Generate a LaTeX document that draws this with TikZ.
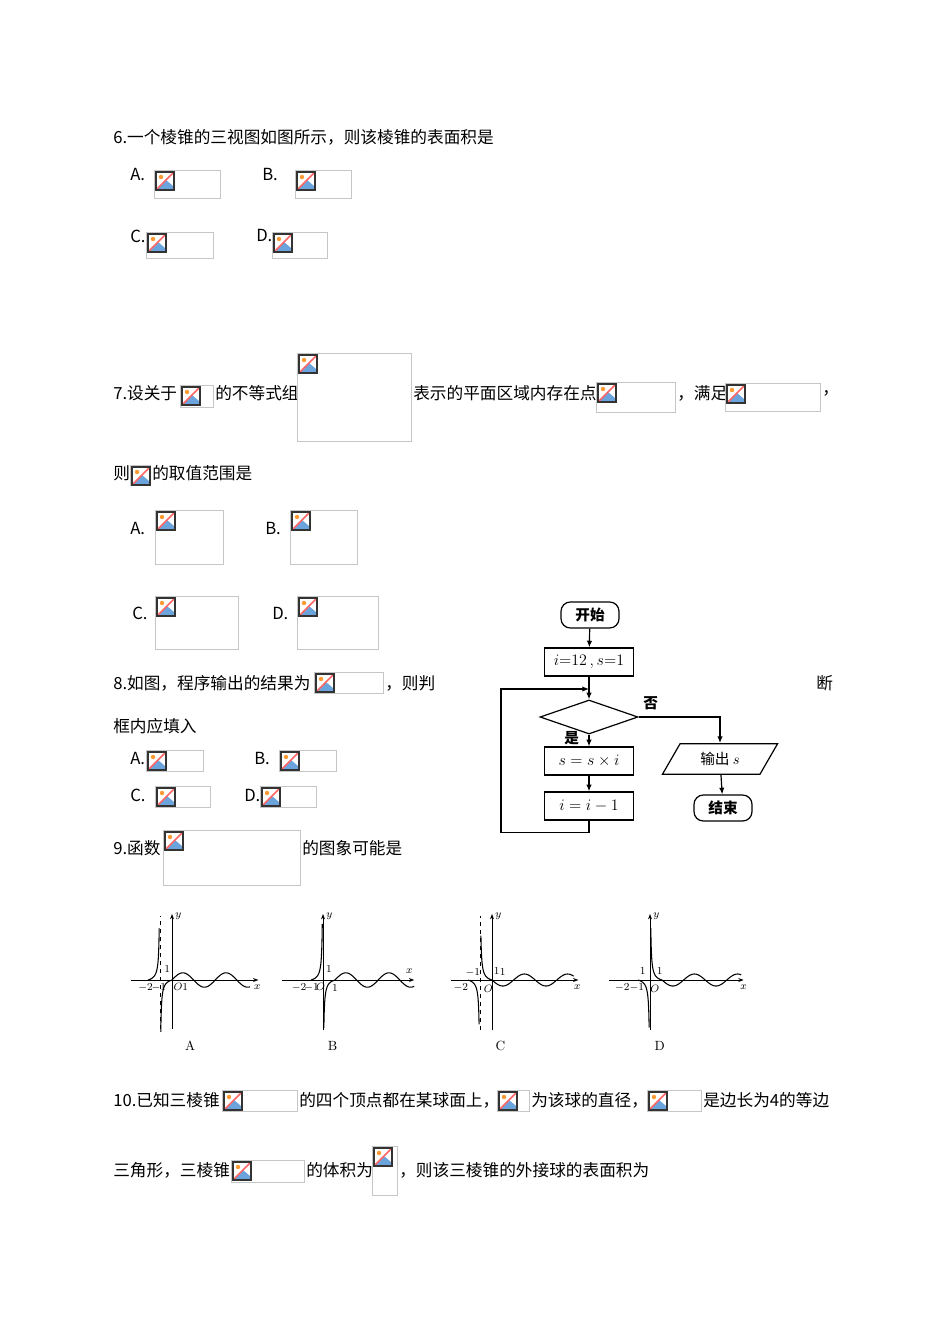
\documentclass[tikz,border=0pt]{standalone}
\usepackage{fontspec}
\newfontfamily\cjk{Noto Sans CJK SC}
\usetikzlibrary{shapes.geometric,arrows.meta}
\tikzset{txt/.style={anchor=west,inner sep=0pt,font=\cjk\fontsize{12.5}{14}\selectfont},
 fbox/.style={draw,line width=0.9pt,minimum width=66.75pt,minimum height=21pt,inner sep=0pt,font=\fontsize{12}{14}\selectfont},
 rbox/.style={draw,line width=0.9pt,rounded corners=7pt,minimum width=43.5pt,minimum height=19.5pt,inner sep=0pt,font=\cjk\bfseries\fontsize{11}{13}\selectfont},
 fl/.style={line width=0.9pt,-{Latex[length=5pt,width=4pt]}},
 ax/.style={line width=0.6pt,-{Stealth[length=4pt,width=3pt]}},
 cv/.style={line width=0.8pt},
 gl/.style={inner sep=0.5pt,font=\fontsize{8}{9}\selectfont}}
\newcommand\brk[4]{\draw[gray!45] (#1,#2) rectangle (#3,#4);
 \scoped[shift={(#1+2,#2+2)}]{\fill[white] (0,0) rectangle (18,18);
  \fill[cyan!60!blue!60] (1,17) -- (10,8) -- (17,14) -- (17,17) -- cycle;
  \fill[orange!80] (5,5) circle (2.2);
  \draw[red!60,line width=1.2pt] (0,18) -- (18,0);
  \draw[black!80,line width=0.8pt] (0,0) rectangle (18,18);}}
\begin{document}
\begin{tikzpicture}[x=0.75pt,y=-0.75pt]
\useasboundingbox (0,0) rectangle (950,1344);
\node[txt] at (113,137) {6.一个棱锥的三视图如图所示，则该棱锥的表面积是};
\node[txt] at (130,175) {A.}; \brk{154}{170}{220}{198}
\node[txt] at (262,175) {B.}; \brk{295}{170}{351}{198}
\node[txt] at (130,236) {C.}; \brk{146}{232}{213}{258}
\node[txt] at (256,236) {D.}; \brk{272}{232}{327}{258}
\node[txt] at (113,393) {7.设关于}; \brk{180}{385}{213}{407}
\node[txt] at (215,393) {的不等式组}; \brk{297}{353}{411}{441}
\node[txt] at (413,393) {表示的平面区域内存在点}; \brk{596}{382}{675}{412}
\node[txt] at (677,393) {，满足}; \brk{725}{383}{820}{411}
\node[txt] at (822,393) {，};
\node[txt] at (113,473) {则}; \brk{130}{465}{150}{485}
\node[txt] at (152,473) {的取值范围是};
\node[txt] at (130,528) {A.}; \brk{155}{510}{223}{564}
\node[txt] at (265,528) {B.}; \brk{290}{510}{357}{564}
\node[txt] at (132,613) {C.}; \brk{155}{596}{238}{649}
\node[txt] at (272,613) {D.}; \brk{297}{596}{378}{649}
\node[txt] at (113,683) {8.如图，程序输出的结果为}; \brk{314}{672}{383}{693}
\node[txt] at (385,683) {，则判};
\node[txt] at (816,683) {断};
\node[txt] at (113,726) {框内应填入};
\node[txt] at (130,758) {A.}; \brk{146}{750}{203}{771}
\node[txt] at (254,758) {B.}; \brk{279}{750}{336}{771}
\node[txt] at (130,795) {C.}; \brk{155}{786}{210}{807}
\node[txt] at (244,795) {D.}; \brk{260}{786}{316}{807}
\node[rbox] (st) at (590,615) {开始};
\node[fbox] (init) at (589,662) {$i{=}12\,,s{=}1$};
\node[draw,line width=0.9pt,diamond,aspect=2.9,minimum width=73.5pt,minimum height=25.5pt,inner sep=0pt] (dec) at (589,717) {};
\node[fbox] (mul) at (589,761) {$s=s\times i$};
\node[fbox] (dec1) at (589,806) {$i=i-1$};
\node[draw,line width=0.9pt,trapezium,trapezium left angle=60,trapezium right angle=120,minimum width=62pt,minimum height=23pt,inner sep=1pt,font=\cjk\fontsize{11}{13}\selectfont] (out) at (720,759) {输出 $s$};
\node[rbox] (end) at (723,808) {结束};
\coordinate (lp) at (589,689);
\draw[fl] (st) -- (init);
\draw[line width=0.9pt] (init) -- (lp);
\draw[fl] (lp) -- (dec);
\draw[fl] (dec) -- (mul);
\draw[fl] (mul) -- (dec1);
\draw[fl] (dec1.south) -- ++(0,12) -| (501,689) -- (lp);
\draw[fl] (dec.east) -| (out.north);
\draw[fl] (out) -- (end);
\node[txt,font=\cjk\bfseries\fontsize{11}{13}\selectfont] at (643,703) {否};
\node[txt,font=\cjk\bfseries\fontsize{11}{13}\selectfont] at (564,738) {是};
\node[txt] at (113,848) {9.函数}; \brk{163}{830}{300}{885}
\node[txt] at (302,848) {的图象可能是};
\begin{scope}[shift={(172,980)},xscale=12,yscale=-12]
\draw[ax] (-3.4,0) -- (7.2,0); \draw[ax] (0,-4.1) -- (0,5.5);
\draw[dashed,line width=0.6pt] (-1,-4.1) -- (-1,5.3);
\draw[cv,domain=-2:-1.065,samples=40] plot (\x,{0.3/(-1-\x)-0.3});
\draw[cv,domain=-0.935:0,samples=40] plot (\x,{0.3-0.3/(\x+1)});
\draw[cv,domain=0:6.5,samples=80] plot (\x,{0.6*sin(100*\x)});
\node[gl,anchor=west] at (0.2,5.3) {$y$}; \node[gl] at (7.1,-0.6) {$x$};
\node[gl] at (-2.2,-0.6) {$-2$}; \node[gl] at (-1.1,-0.6) {$-1$};
\node[gl] at (0.5,-0.6) {$O$}; \node[gl] at (1.1,-0.6) {1}; \node[gl] at (-0.4,0.9) {1};
\node[font=\fontsize{10}{11}\selectfont] at (1.5,-5.5) {A};
\end{scope}
\begin{scope}[shift={(323,980)},xscale=12,yscale=-12]
\draw[ax] (-3.4,0) -- (7.6,0); \draw[ax] (0,-4.2) -- (0,5.5);
\draw[cv,domain=-1:-0.06,samples=40] plot (\x,{0.3/(-\x)-0.3});
\draw[cv,domain=0.07:1,samples=40] plot (\x,{0.3-0.3/\x});
\draw[cv,domain=1:7.6,samples=80] plot (\x,{0.6*sin(100*(\x-1))});
\node[gl,anchor=west] at (0.2,5.3) {$y$}; \node[gl] at (7.2,0.7) {$x$};
\node[gl] at (-2,-0.6) {$-2$}; \node[gl] at (-0.95,-0.6) {$-1$};
\node[gl] at (-0.2,-0.6) {$O$}; \node[gl] at (1,-0.7) {1}; \node[gl] at (0.5,0.9) {1};
\node[font=\fontsize{10}{11}\selectfont] at (0.8,-5.5) {B};
\end{scope}
\begin{scope}[shift={(492,980)},xscale=12,yscale=-12]
\draw[ax] (-3.4,0) -- (7.2,0); \draw[ax] (0,-4.2) -- (0,5.5);
\draw[dashed,line width=0.6pt] (-1,-4.2) -- (-1,5.3);
\draw[cv,domain=-2:-1.075,samples=40] plot (\x,{-(0.3/(-1-\x)-0.3)});
\draw[cv,domain=-0.925:0,samples=40] plot (\x,{-(0.3-0.3/(\x+1))});
\draw[cv,domain=0:6.8,samples=80] plot (\x,{-0.5*sin(100*\x)});
\node[gl,anchor=west] at (0.2,5.3) {$y$}; \node[gl] at (7.1,-0.6) {$x$};
\node[gl] at (-2.6,-0.6) {$-2$}; \node[gl] at (-1.6,0.6) {$-1$};
\node[gl] at (-0.3,-0.7) {$O$}; \node[gl] at (0.9,0.65) {1}; \node[gl] at (0.4,0.75) {1};
\node[font=\fontsize{10}{11}\selectfont] at (0.7,-5.5) {C};
\end{scope}
\begin{scope}[shift={(650,980)},xscale=12,yscale=-12]
\draw[ax] (-3.4,0) -- (7.8,0); \draw[ax] (0,-4.2) -- (0,5.5);
\draw[cv,domain=-1:-0.07,samples=40] plot (\x,{-(0.3/(-\x)-0.3)});
\draw[cv,domain=0.065:1,samples=40] plot (\x,{0.3/\x-0.3});
\draw[cv,domain=1:7.6,samples=80] plot (\x,{-0.5*sin(100*(\x-1))});
\node[gl,anchor=west] at (0.2,5.3) {$y$}; \node[gl] at (7.8,-0.6) {$x$};
\node[gl] at (-2.3,-0.6) {$-2$}; \node[gl] at (-1.1,-0.6) {$-1$};
\node[gl] at (0.4,-0.7) {$O$}; \node[gl] at (0.8,0.75) {1}; \node[gl] at (-0.6,0.75) {1};
\node[font=\fontsize{10}{11}\selectfont] at (0.8,-5.5) {D};
\end{scope}
\node[txt] at (113,1100) {10.已知三棱锥}; \brk{222}{1090}{297}{1111}
\node[txt] at (299,1100) {的四个顶点都在某球面上，}; \brk{497}{1090}{529}{1111}
\node[txt] at (531,1100) {为该球的直径，}; \brk{647}{1090}{701}{1111}
\node[txt] at (703,1100) {是边长为4的等边};
\node[txt] at (113,1170) {三角形，三棱锥}; \brk{231}{1160}{304}{1182}
\node[txt] at (306,1170) {的体积为}; \brk{372}{1146}{397}{1195}
\node[txt] at (399,1170) {，则该三棱锥的外接球的表面积为};
\end{tikzpicture}
\end{document}
